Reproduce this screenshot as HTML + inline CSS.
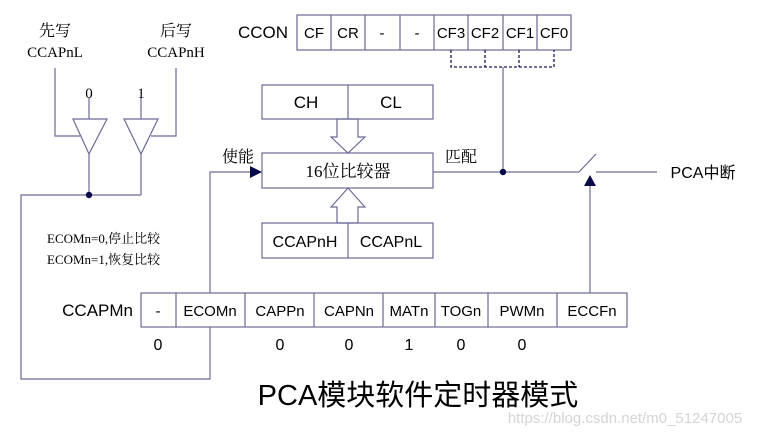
<!DOCTYPE html>
<html><head><meta charset="utf-8"><style>
html,body{margin:0;padding:0;background:#fff;}
svg{display:block;}
.s{font-family:"Liberation Sans","Noto Sans CJK SC",sans-serif;}
.r{font-family:"Liberation Serif","Noto Serif CJK SC",serif;}
</style></head><body>
<svg width="758" height="437" viewBox="0 0 758 437" xmlns="http://www.w3.org/2000/svg">
<g fill="none" stroke="#6b6b96" stroke-width="1.2">
<!-- CCON -->
<rect x="297" y="15" width="274" height="35"/>
<line x1="331" y1="15" x2="331" y2="50"/><line x1="365" y1="15" x2="365" y2="50"/>
<line x1="400" y1="15" x2="400" y2="50"/><line x1="434" y1="15" x2="434" y2="50"/>
<line x1="468" y1="15" x2="468" y2="50"/><line x1="503" y1="15" x2="503" y2="50"/>
<line x1="537" y1="15" x2="537" y2="50"/>
<!-- CH CL -->
<rect x="262" y="85" width="171" height="34"/><line x1="348" y1="85" x2="348" y2="119"/>
<rect x="262" y="153" width="171" height="35"/>
<rect x="262" y="223" width="171" height="35"/><line x1="348" y1="223" x2="348" y2="258"/>
<polygon points="337,119 358,119 358,137 365,137 348,153 331,137 337,137"/>
<polygon points="337,223 358,223 358,207 365,207 348,188 331,207 337,207"/>
<!-- output line -->
<line x1="433" y1="172" x2="579" y2="172"/>
<line x1="579" y1="172" x2="596" y2="154"/>
<line x1="596" y1="172" x2="657" y2="172"/>
<line x1="503" y1="67" x2="503" y2="172"/>
<line x1="590" y1="293" x2="590" y2="186"/>
<!-- left buffers -->
<polyline points="55,68 55,136 80,136"/>
<polyline points="176,68 176,136 151,136"/>
<polygon points="73,119 107,119 89,154"/>
<polygon points="124,119 158,119 141,154"/>
<line x1="89" y1="98" x2="89" y2="119"/><line x1="141" y1="98" x2="141" y2="119"/>
<line x1="89" y1="154" x2="89" y2="195"/><line x1="141" y1="154" x2="141" y2="195"/>
<polyline points="141,195 21,195 21,379 210,379 210,327"/>
<polyline points="210,293 210,172 250,172"/>
<!-- CCAPMn -->
<rect x="141" y="293" width="486" height="34"/>
<line x1="176" y1="293" x2="176" y2="327"/><line x1="245" y1="293" x2="245" y2="327"/>
<line x1="314" y1="293" x2="314" y2="327"/><line x1="383" y1="293" x2="383" y2="327"/>
<line x1="435" y1="293" x2="435" y2="327"/><line x1="488" y1="293" x2="488" y2="327"/>
<line x1="557" y1="293" x2="557" y2="327"/>
</g>
<g fill="none" stroke="#1a1a5a" stroke-width="1.3" stroke-dasharray="3,2">
<polyline points="451,50 451,67 554,67 554,50"/>
<line x1="485" y1="50" x2="485" y2="67"/><line x1="519" y1="50" x2="519" y2="67"/>
</g>
<g fill="#0a0a4a">
<circle cx="503" cy="172" r="3.2"/><circle cx="89" cy="195" r="3.2"/>
<polygon points="250,166 262,172 250,178"/>
<polygon points="584,186 590,175 596,186"/>
</g>
<g class="s" font-size="15" text-anchor="middle" fill="#000">
<text x="263" y="38" font-size="17">CCON</text>
<text x="314" y="38">CF</text><text x="348" y="38">CR</text>
<text x="382" y="38">-</text><text x="417" y="38">-</text>
<text x="451" y="38">CF3</text><text x="485" y="38">CF2</text>
<text x="520" y="38">CF1</text><text x="554" y="38">CF0</text>
<text x="306" y="108" font-size="17">CH</text><text x="391" y="108" font-size="17">CL</text>
<text x="305" y="247" font-size="16">CCAPnH</text><text x="391" y="247" font-size="16">CCAPnL</text>
<text x="703" y="178" font-size="16">PCA中断</text>
<text x="133" y="316" font-size="17" text-anchor="end">CCAPMn</text>
<text x="158" y="316">-</text><text x="210" y="316">ECOMn</text>
<text x="280" y="316">CAPPn</text><text x="349" y="316">CAPNn</text>
<text x="409" y="316">MATn</text><text x="461" y="316">TOGn</text>
<text x="522" y="316">PWMn</text><text x="592" y="316">ECCFn</text>
<text x="158" y="350" font-size="16">0</text><text x="280" y="350" font-size="16">0</text>
<text x="349" y="350" font-size="16">0</text><text x="409" y="350" font-size="16">1</text>
<text x="461" y="350" font-size="16">0</text><text x="522" y="350" font-size="16">0</text>
<text x="418" y="405" font-size="29">PCA模块软件定时器模式</text>
<text x="625" y="423" font-size="15" fill="#d4d4d4">https://blog.csdn.net/m0_51247005</text>
</g>
<g class="r" font-size="15" text-anchor="middle" fill="#000">
<text x="55" y="36" font-size="16">先写</text><text x="55" y="57">CCAPnL</text>
<text x="176" y="36" font-size="16">后写</text><text x="176" y="57">CCAPnH</text>
<text x="89" y="98">0</text><text x="141" y="98">1</text>
<text x="238" y="162" font-size="16">使能</text>
<text x="461" y="162" font-size="16">匹配</text>
<text x="348" y="177" font-size="17">16位比较器</text>
<text x="47" y="243" font-size="13" text-anchor="start">ECOMn=0,停止比较</text>
<text x="47" y="264" font-size="13" text-anchor="start">ECOMn=1,恢复比较</text>
</g>
</svg>
</body></html>
